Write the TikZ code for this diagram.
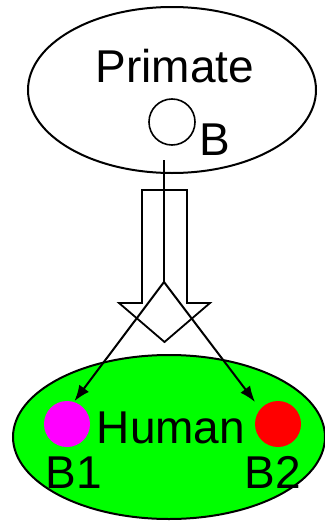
\documentclass[tikz,border=0pt]{standalone}
\usepackage{fontspec}
\setmainfont{Liberation Sans}
\usetikzlibrary{shapes.geometric,arrows.meta}
\definecolor{mygreen}{RGB}{0,255,0}
\definecolor{mymag}{RGB}{255,0,255}
\definecolor{myred}{RGB}{255,0,0}
\begin{document}
\begin{tikzpicture}[x=1pt,y=-1pt,line width=2pt,
  lbl/.style={font=\fontsize{46}{46}\selectfont,inner sep=0pt,anchor=base},
  oval/.style={draw,ellipse,inner sep=0pt},
  dot/.style={circle,inner sep=0pt,minimum size=46pt},
  arr/.style={-{Latex[length=16pt,width=12pt]},line width=2pt}]
\useasboundingbox (0,0) rectangle (324,522);
% top ellipse
\node[oval,minimum width=288pt,minimum height=166pt] (primate) at (172,90) {};
\node[lbl] (ptext) at (175,82) {Primate};
\node[dot,draw,line width=1.6pt] (B) at (172,122) {};
\node[lbl] (btext) at (215,155) {B};
% bottom ellipse
\node[oval,fill=mygreen,minimum width=312pt,minimum height=164pt] (human) at (169,437) {};
\node[dot,fill=mymag] (B1) at (67,424) {};
\node[dot,fill=myred] (B2) at (278,424) {};
\node[lbl] (htext) at (171,443) {Human};
\node[lbl] (b1text) at (74,488) {B1};
\node[lbl] (b2text) at (273,488) {B2};
% hollow arrow
\draw[fill=white,line width=1.8pt] (142,190) -- (187,190) -- (187,303) -- (210,303) -- (164.5,342) -- (119,303) -- (142,303) -- cycle;
% line and branching arrows
\coordinate (start) at (164,160);
\coordinate (split) at (164,282);
\coordinate (tip2) at (255,402);
\draw (start) -- (split);
\draw[arr] (split) -- (B1.72);
\draw[arr] (split) -- (tip2);
\end{tikzpicture}
\end{document}
